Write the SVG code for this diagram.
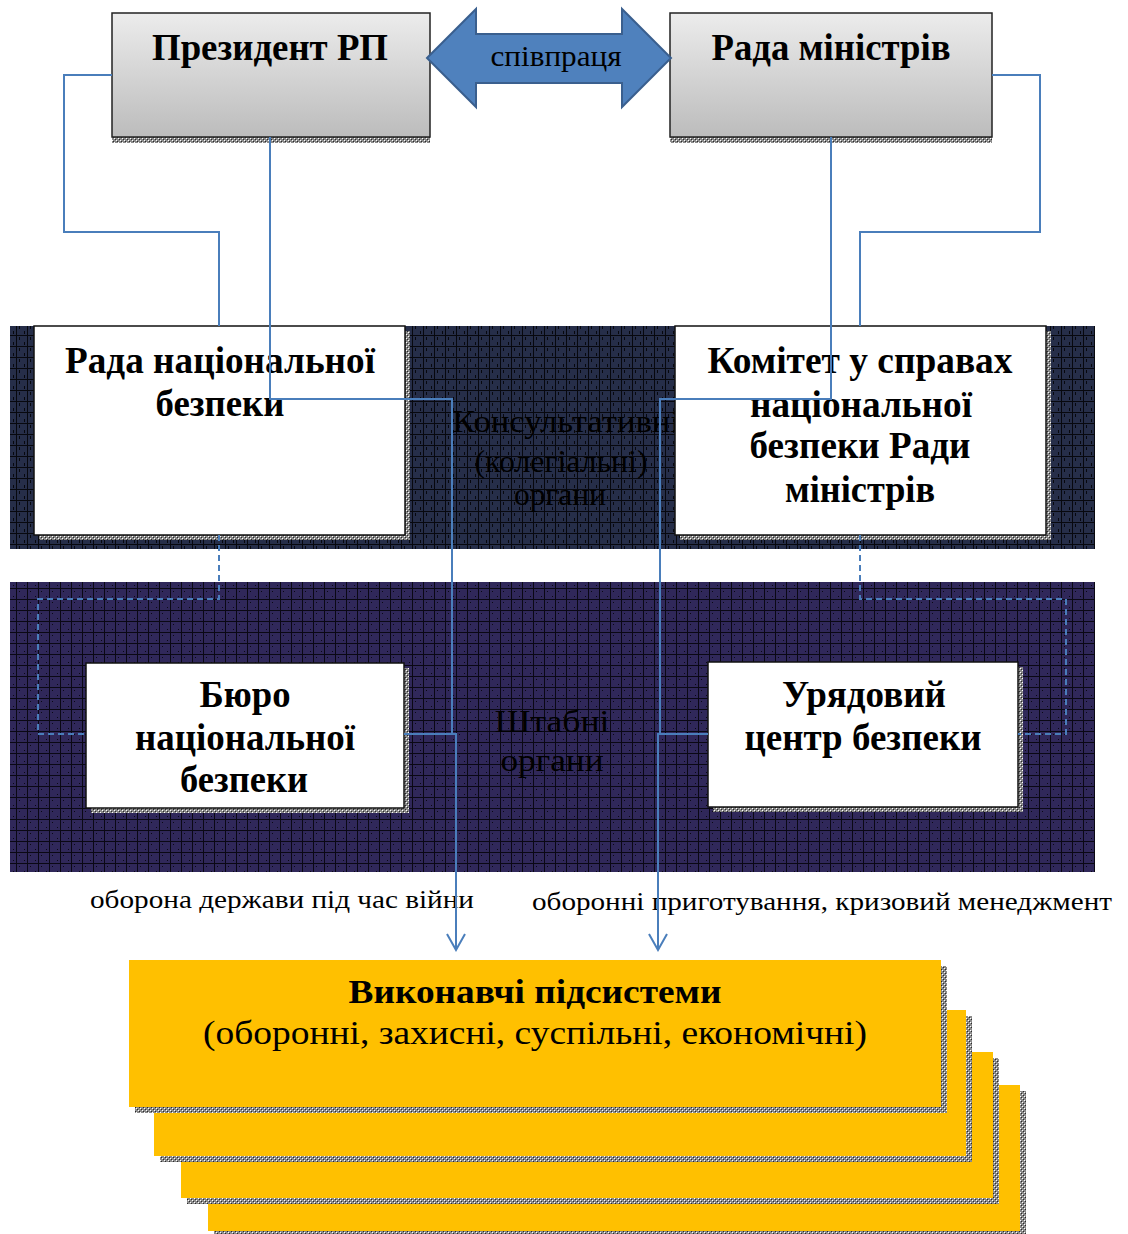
<svg xmlns="http://www.w3.org/2000/svg" width="1128" height="1234" viewBox="0 0 1128 1234">
<defs>
<style>
text{font-family:"Liberation Serif","Times New Roman",serif;fill:#000;text-anchor:middle}
.b{font-weight:bold;font-size:37px}
.band-t{font-size:32px;fill:#000}
.lbl{font-size:25px}
.box{fill:#fff;stroke:#111;stroke-width:1.5}
.top{fill:url(#grad);stroke:#222;stroke-width:1.5}
.sh{fill:url(#hatch)}
.yl{fill:#ffc000}
.con{fill:none;stroke:#4a7ebb;stroke-width:2}
.dash{stroke-dasharray:6 4}
</style>
<linearGradient id="grad" x1="0" y1="0" x2="0" y2="1">
<stop offset="0" stop-color="#ececec"/>
<stop offset="1" stop-color="#bcbcbc"/>
</linearGradient>
<pattern id="hatch" width="4" height="4" patternUnits="userSpaceOnUse">
<rect width="4" height="4" fill="#8a8a8a"/>
<rect x="0" y="0" width="1" height="1" fill="#fff"/>
<rect x="2" y="2" width="1" height="1" fill="#fff"/>
<rect x="1" y="1" width="1" height="1" fill="#2a2a2a"/>
<rect x="3" y="3" width="1" height="1" fill="#2a2a2a"/>
</pattern>
<pattern id="p1" width="11" height="11" patternUnits="userSpaceOnUse">
<rect width="11" height="11" fill="#07080e"/>
<rect x="0" y="0" width="5" height="5" fill="#262e49"/>
<rect x="6" y="0" width="5" height="5" fill="#262e49"/>
<rect x="0" y="6" width="5" height="5" fill="#262e49"/>
<rect x="6" y="6" width="5" height="5" fill="#262e49"/>
<rect x="2" y="1" width="1" height="3" fill="#07080e"/>
<rect x="8" y="7" width="1" height="3" fill="#07080e"/>
</pattern>
<pattern id="p2" width="11" height="11" patternUnits="userSpaceOnUse">
<rect width="11" height="11" fill="#0a0814"/>
<rect x="0" y="0" width="5" height="5" fill="#30285a"/>
<rect x="6" y="0" width="5" height="5" fill="#30285a"/>
<rect x="0" y="6" width="5" height="5" fill="#30285a"/>
<rect x="6" y="6" width="5" height="5" fill="#30285a"/>
<rect x="2" y="2" width="1" height="1" fill="#0a0814"/>
<rect x="8" y="8" width="1" height="1" fill="#0a0814"/>
</pattern>
<marker id="arr" viewBox="0 0 20 20" refX="18" refY="10" markerWidth="20" markerHeight="20" markerUnits="userSpaceOnUse" orient="auto">
<path d="M2,1 L18,10 L2,19" fill="none" stroke="#4a7ebb" stroke-width="2"/>
</marker>
</defs>

<rect width="1128" height="1234" fill="#fff"/>

<g id="band-consult">
<rect x="10" y="326" width="1085" height="223" fill="url(#p1)"/>
<text class="band-t" x="566" y="432" textLength="228" lengthAdjust="spacingAndGlyphs">Консультативні</text>
<text class="band-t" x="561" y="472" textLength="173" lengthAdjust="spacingAndGlyphs">(колегіальні)</text>
<text class="band-t" x="560" y="505" textLength="92" lengthAdjust="spacingAndGlyphs">органи</text>
</g>

<g id="band-staff">
<rect x="10" y="582" width="1085" height="290" fill="url(#p2)"/>
<text class="band-t" x="552" y="732" textLength="115" lengthAdjust="spacingAndGlyphs">Штабні</text>
<text class="band-t" x="552" y="771" textLength="103" lengthAdjust="spacingAndGlyphs">органи</text>
</g>

<g id="president">
<rect class="sh" x="112" y="137" width="318" height="6"/>
<rect class="top" x="112" y="13" width="318" height="124"/>
<text class="b" x="270" y="60" textLength="236" lengthAdjust="spacingAndGlyphs">Президент РП</text>
</g>

<g id="council-ministers">
<rect class="sh" x="670" y="137" width="322" height="6"/>
<rect class="top" x="670" y="13" width="322" height="124"/>
<text class="b" x="831" y="60" textLength="239" lengthAdjust="spacingAndGlyphs">Рада міністрів</text>
</g>

<g id="cooperation">
<polygon points="427,58 476,9 476,34 622,34 622,9 671,58 622,107 622,83 476,83 476,107" fill="#4f81bd" stroke="#3a5f8e" stroke-width="2"/>
<text x="556" y="66" style="font-size:29px" textLength="131" lengthAdjust="spacingAndGlyphs">співпраця</text>
</g>

<g id="nsc">
<rect class="sh" x="39" y="331" width="371" height="209"/>
<rect class="box" x="34" y="326" width="371" height="209"/>
<text class="b" x="220" y="373" textLength="310" lengthAdjust="spacingAndGlyphs">Рада національної</text>
<text class="b" x="220" y="416" textLength="129" lengthAdjust="spacingAndGlyphs">безпеки</text>
</g>

<g id="committee">
<rect class="sh" x="680" y="331" width="371" height="209"/>
<rect class="box" x="675" y="326" width="371" height="209"/>
<text class="b" x="860" y="373" textLength="305" lengthAdjust="spacingAndGlyphs">Комітет у справах</text>
<text class="b" x="861" y="417" textLength="222" lengthAdjust="spacingAndGlyphs">національної</text>
<text class="b" x="860" y="458" textLength="221" lengthAdjust="spacingAndGlyphs">безпеки Ради</text>
<text class="b" x="860" y="502" textLength="150" lengthAdjust="spacingAndGlyphs">міністрів</text>
</g>

<g id="bureau">
<rect class="sh" x="91" y="668" width="318" height="145"/>
<rect class="box" x="86" y="663" width="318" height="145"/>
<text class="b" x="245" y="707" textLength="91" lengthAdjust="spacingAndGlyphs">Бюро</text>
<text class="b" x="245" y="750" textLength="220" lengthAdjust="spacingAndGlyphs">національної</text>
<text class="b" x="244" y="792" textLength="128" lengthAdjust="spacingAndGlyphs">безпеки</text>
</g>

<g id="gov-center">
<rect class="sh" x="713" y="667" width="310" height="145"/>
<rect class="box" x="708" y="662" width="310" height="145"/>
<text class="b" x="864" y="707" textLength="164" lengthAdjust="spacingAndGlyphs">Урядовий</text>
<text class="b" x="863" y="750" textLength="237" lengthAdjust="spacingAndGlyphs">центр безпеки</text>
</g>

<g id="executive">
<rect class="sh" x="214" y="1091" width="812" height="146"/>
<rect class="yl" x="208" y="1085" width="812" height="146"/>
<rect class="sh" x="187" y="1058" width="812" height="146"/>
<rect class="yl" x="181" y="1052" width="812" height="146"/>
<rect class="sh" x="160" y="1016" width="812" height="146"/>
<rect class="yl" x="154" y="1010" width="812" height="146"/>
<rect class="sh" x="135" y="966" width="812" height="147"/>
<rect class="yl" x="129" y="960" width="812" height="147"/>
<text x="535" y="1003" style="font-size:34px;font-weight:bold" textLength="373" lengthAdjust="spacingAndGlyphs">Виконавчі підсистеми</text>
<text x="535" y="1044" style="font-size:34px" textLength="664" lengthAdjust="spacingAndGlyphs">(оборонні, захисні, суспільні, економічні)</text>
</g>

<g id="labels">
<text class="lbl" x="282" y="908" textLength="384" lengthAdjust="spacingAndGlyphs">оборона держави під час війни</text>
<text class="lbl" x="822" y="910" textLength="580" lengthAdjust="spacingAndGlyphs">оборонні приготування, кризовий менеджмент</text>
</g>

<g id="connectors">
<polyline class="con" points="112,75 64,75 64,232 219,232 219,326"/>
<polyline class="con" points="992,75 1040,75 1040,232 860,232 860,326"/>
<polyline class="con" points="270,137 270,399 452,399 452,734 404,734"/>
<polyline class="con" points="831,137 831,399 660,399 660,734 708,734"/>
<polyline class="con dash" points="219,535 219,599 38,599 38,734 86,734"/>
<polyline class="con dash" points="860,535 860,599 1066,599 1066,734 1018,734"/>
<polyline class="con" points="404,734 456,734 456,950" marker-end="url(#arr)"/>
<polyline class="con" points="708,734 658,734 658,950" marker-end="url(#arr)"/>
</g>
</svg>
